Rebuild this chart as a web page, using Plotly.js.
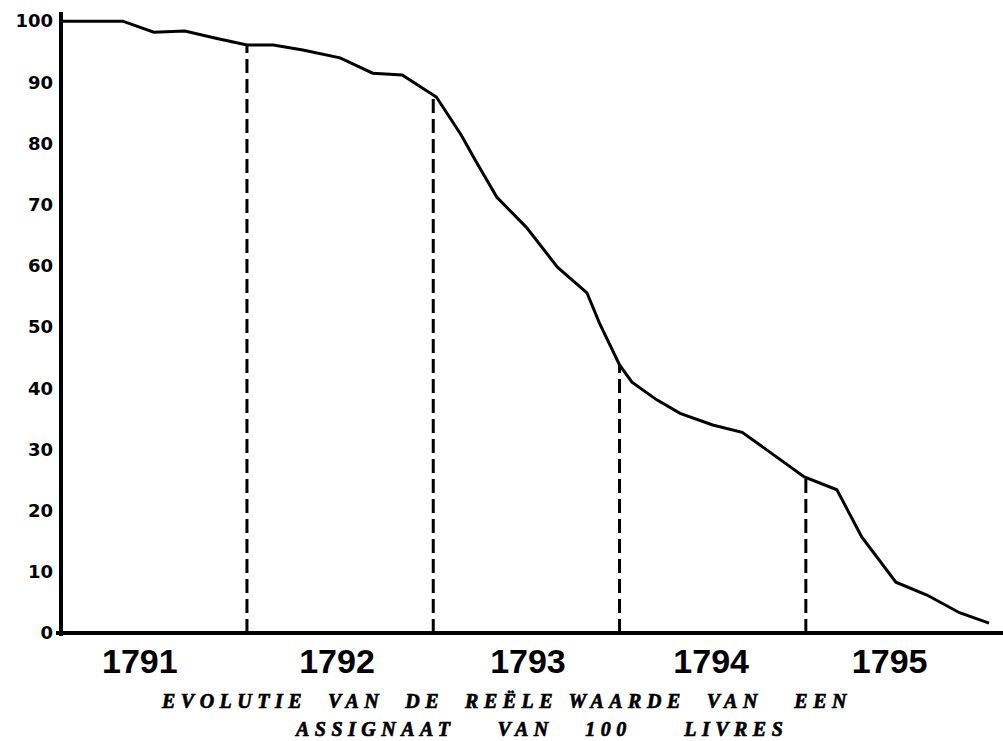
<!DOCTYPE html>
<html>
<head>
<meta charset="utf-8">
<script src="https://cdn.plot.ly/plotly-3.0.1.min.js"></script>
<style>
  html, body { margin: 0; padding: 0; background: #fff; }
  #chart { width: 1003px; height: 741px; }
  .annotation-text { letter-spacing: 5.5px; font-weight: 900 !important; stroke: #000; stroke-width: 0.7px; }
</style>
</head>
<body>
<div id="chart"></div>
<script>
// Months counted from January 1791 (0) to the end of 1795 (60)
const months = [0, 4, 6, 8, 10, 12, 13.7, 15.6, 18, 20.1, 22, 24.2, 25.8, 26.7, 28.1, 30, 32, 33.9, 34.7, 36, 36.8, 38.4, 39.9, 42, 43.9, 45.8, 47.9, 50, 51.6, 53.8, 55.8, 57.9, 59.8];
// Real value (%) of an assignat of 100 livres
const values = [100, 100, 98.2, 98.4, 97.2, 96.1, 96.1, 95.3, 94.0, 91.5, 91.2, 87.6, 81.4, 77.3, 71.2, 66.3, 59.8, 55.6, 50.7, 43.8, 41.0, 38.1, 35.9, 34.0, 32.8, 29.4, 25.5, 23.4, 15.7, 8.3, 6.2, 3.3, 1.6];
// Year boundaries (months) marked by dashed lines
const yearBounds = [12, 24, 36, 48];
// Tick labels
const yearLabels = ["1791", "1792", "1793", "1794", "1795"];
const yTicks = [0, 10, 20, 30, 40, 50, 60, 70, 80, 90, 100];
const titleLine1 = "EVOLUTIE\u00a0\u00a0VAN\u00a0\u00a0DE\u00a0\u00a0REËLE\u00a0WAARDE\u00a0\u00a0VAN\u00a0\u00a0\u00a0EEN";
const titleLine2 = "ASSIGNAAT\u00a0\u00a0\u00a0\u00a0VAN\u00a0\u00a0\u00a0100\u00a0\u00a0\u00a0\u00a0\u00a0LIVRES";

const yearLabelPos = [5.1, 17.8, 30.1, 41.9, 53.4];

function interp(x) {
  for (let i = 0; i < months.length - 1; i++) {
    if (x >= months[i] && x <= months[i + 1]) {
      const t = (x - months[i]) / (months[i + 1] - months[i]);
      return values[i] + t * (values[i + 1] - values[i]);
    }
  }
  return values[values.length - 1];
}

const traces = [];
yearBounds.forEach(b => {
  traces.push({
    x: [b, b], y: [0, interp(b)], mode: 'lines', type: 'scatter',
    line: { color: '#000', width: 3, dash: '14px,6px' },
    hoverinfo: 'skip', showlegend: false
  });
});
traces.push({
  x: months, y: values, mode: 'lines', type: 'scatter',
  line: { color: '#000', width: 3 },
  hoverinfo: 'skip', showlegend: false
});

const titleFont = { family: '"Liberation Serif", "DejaVu Serif", serif', size: 20, weight: 'bold', style: 'italic', color: '#000' };

const layout = {
  width: 1003, height: 741,
  margin: { l: 56, r: 0, t: 12, b: 105 },
  paper_bgcolor: '#fff', plot_bgcolor: '#fff',
  showlegend: false,
  xaxis: {
    range: [-0.3, 60.7],
    showgrid: false,
    zeroline: true, zerolinecolor: '#000', zerolinewidth: 4,
    showline: false,
    tickmode: 'array', tickvals: yearLabelPos, ticktext: yearLabels,
    ticks: '', ticklabelstandoff: 2,
    tickfont: { family: '"Liberation Sans Narrow", "Liberation Sans", Arial, sans-serif', size: 34, weight: 'bold', color: '#000' }
  },
  yaxis: {
    range: [-0.5, 101.5],
    showgrid: false,
    zeroline: true, zerolinecolor: '#000', zerolinewidth: 4,
    showline: false,
    tickmode: 'array', tickvals: yTicks, ticktext: yTicks.map(String),
    ticks: '', ticklabelstandoff: 2,
    tickfont: { family: '"DejaVu Sans", sans-serif', size: 18, weight: 'bold', color: '#000' }
  },
  annotations: [
    { text: titleLine1, xref: 'paper', yref: 'paper', x: 0.476, y: -0.104, xanchor: 'center', yanchor: 'middle', showarrow: false, font: titleFont },
    { text: titleLine2, xref: 'paper', yref: 'paper', x: 0.512, y: -0.149, xanchor: 'center', yanchor: 'middle', showarrow: false, font: titleFont }
  ]
};

Plotly.newPlot('chart', traces, layout, { staticPlot: true, displayModeBar: false });
</script>
</body>
</html>
